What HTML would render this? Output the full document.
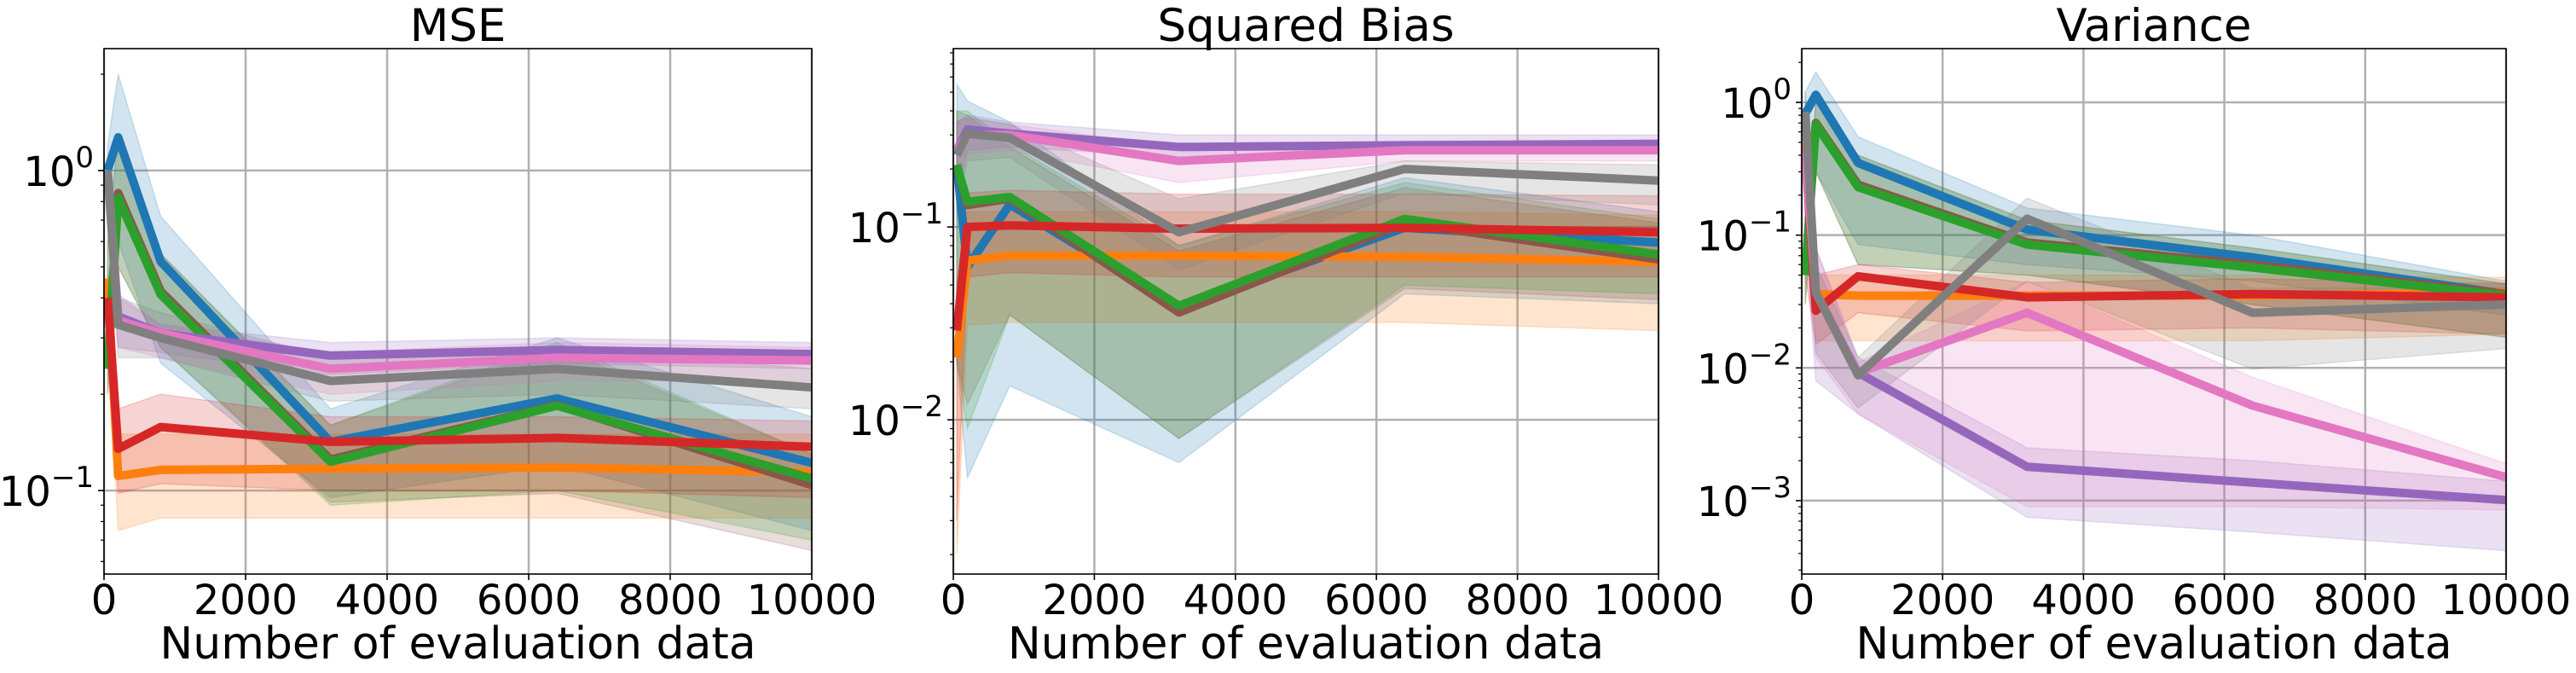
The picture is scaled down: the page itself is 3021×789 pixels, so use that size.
<!DOCTYPE html>
<html><head><meta charset="utf-8">
<style>
html,body{margin:0;padding:0;background:#fff;}
svg{display:block;}
text{font-family:"DejaVu Sans","Liberation Sans",sans-serif;fill:#000;}
</style></head>
<body>
<svg id="fig" width="3021" height="789" viewBox="0 0 3021 789" xmlns="http://www.w3.org/2000/svg"></svg>
<script>
// ---------- data ----------
const xs = [50, 200, 800, 3200, 6400, 10000];
const seriesNames = ['blue','orange','green','red','purple','brown','pink','gray'];
const colors = ['#1f77b4','#ff7f0e','#2ca02c','#d62728','#9467bd','#8c564b','#e377c2','#7f7f7f'];
const drawOrder = [0,1,5,2,3,4,6,7];
const xTicks = [0,2000,4000,6000,8000,10000];
const xTickLabels = ['0','2000','4000','6000','8000','10000'];
const titles = ['MSE','Squared Bias','Variance'];

// MSE
const mseMean = [
 [1.0,1.27,0.52,0.142,0.194,0.122],
 [0.46,0.111,0.116,0.117,0.118,0.114],
 [0.24,0.82,0.41,0.123,0.184,0.109],
 [0.40,0.135,0.158,0.142,0.146,0.137],
 [1.0,0.35,0.31,0.264,0.275,0.267],
 [0.24,0.85,0.42,0.125,0.185,0.104],
 [1.0,0.34,0.31,0.24,0.26,0.255],
 [1.0,0.33,0.30,0.22,0.24,0.21]];
const mseHi = [
 [1.2,2.0,0.72,0.18,0.30,0.17],
 [0.5,0.15,0.15,0.15,0.15,0.15],
 [0.6,1.3,0.55,0.16,0.29,0.13],
 [0.45,0.18,0.2,0.17,0.17,0.165],
 [1.1,0.41,0.33,0.29,0.30,0.29],
 [0.6,1.3,0.55,0.16,0.28,0.13],
 [1.1,0.40,0.33,0.27,0.29,0.28],
 [1.1,0.40,0.36,0.26,0.28,0.24]];
const mseLo = [
 [0.8,0.6,0.25,0.095,0.12,0.075],
 [0.3,0.075,0.082,0.082,0.082,0.082],
 [0.2,0.5,0.28,0.09,0.10,0.07],
 [0.3,0.098,0.105,0.10,0.10,0.095],
 [0.8,0.28,0.27,0.23,0.25,0.24],
 [0.2,0.5,0.28,0.092,0.098,0.065],
 [0.8,0.28,0.26,0.20,0.22,0.22],
 [0.8,0.26,0.26,0.19,0.20,0.18]];

// Squared bias
const biasMean = [
 [0.21,0.062,0.131,0.038,0.099,0.083],
 [0.021,0.067,0.071,0.071,0.070,0.066],
 [0.21,0.135,0.143,0.039,0.11,0.072],
 [0.029,0.1,0.102,0.098,0.099,0.094],
 [0.25,0.32,0.305,0.26,0.265,0.27],
 [0.21,0.13,0.14,0.036,0.105,0.068],
 [0.25,0.30,0.30,0.22,0.25,0.25],
 [0.236,0.305,0.29,0.094,0.20,0.174]];
const biasHi = [
 [0.55,0.45,0.35,0.08,0.18,0.12],
 [0.04,0.12,0.12,0.12,0.12,0.115],
 [0.4,0.40,0.27,0.08,0.17,0.11],
 [0.05,0.15,0.155,0.148,0.148,0.145],
 [0.35,0.38,0.35,0.30,0.30,0.30],
 [0.4,0.38,0.26,0.075,0.16,0.105],
 [0.35,0.37,0.34,0.26,0.28,0.28],
 [0.35,0.37,0.34,0.14,0.22,0.21]];
const biasLo = [
 [0.02,0.005,0.015,0.006,0.045,0.04],
 [0.002,0.031,0.032,0.032,0.032,0.029],
 [0.02,0.009,0.035,0.008,0.05,0.045],
 [0.003,0.055,0.058,0.055,0.055,0.055],
 [0.15,0.25,0.26,0.23,0.24,0.24],
 [0.02,0.012,0.035,0.008,0.048,0.042],
 [0.15,0.24,0.25,0.17,0.22,0.22],
 [0.12,0.22,0.23,0.06,0.15,0.13]];

// Variance
const varMean = [
 [0.82,1.14,0.35,0.11,0.068,0.036],
 [0.49,0.036,0.035,0.035,0.035,0.037],
 [0.05,0.68,0.23,0.085,0.057,0.035],
 [0.43,0.027,0.049,0.034,0.036,0.034],
 [0.43,0.037,0.0092,0.0018,0.00137,0.00101],
 [0.05,0.7,0.24,0.088,0.06,0.036],
 [0.43,0.037,0.0092,0.026,0.0052,0.0015],
 [0.85,0.037,0.0088,0.133,0.026,0.030]];
const varHi = [
 [1.2,1.7,0.55,0.16,0.10,0.045],
 [0.6,0.05,0.05,0.05,0.05,0.048],
 [0.1,1.0,0.4,0.13,0.08,0.043],
 [0.6,0.05,0.06,0.044,0.047,0.043],
 [0.5,0.08,0.012,0.0025,0.002,0.0014],
 [0.1,1.0,0.4,0.13,0.08,0.043],
 [0.5,0.08,0.011,0.045,0.0085,0.0019],
 [1.2,0.06,0.012,0.19,0.04,0.04]];
const varLo = [
 [0.5,0.3,0.085,0.06,0.045,0.025],
 [0.1,0.016,0.016,0.016,0.016,0.018],
 [0.03,0.3,0.06,0.05,0.03,0.017],
 [0.05,0.015,0.026,0.019,0.02,0.018],
 [0.1,0.008,0.0045,0.00075,0.00058,0.00042],
 [0.03,0.3,0.06,0.05,0.03,0.017],
 [0.1,0.012,0.0045,0.0009,0.0009,0.00085],
 [0.5,0.013,0.005,0.045,0.0098,0.014]];

const yDecades = [[0,-1],[-1,-2],[0,-1,-2,-3]];

// ---------- layout ----------
const panels = [
 {left:122,right:952,top:57,bottom:673,logMin:-1.261,logMax:0.381,mean:mseMean,hi:mseHi,lo:mseLo,key:'mse'},
 {left:1118,right:1945,top:57,bottom:673,logMin:-2.80,logMax:-0.075,mean:biasMean,hi:biasHi,lo:biasLo,key:'bias'},
 {left:2113,right:2939,top:57,bottom:673,logMin:-3.553,logMax:0.405,mean:varMean,hi:varHi,lo:varLo,key:'variance'}];

const NS='http://www.w3.org/2000/svg';
const svg=document.getElementById('fig');
function mk(tag,attrs,parent){const e=document.createElementNS(NS,tag);for(const k in attrs)e.setAttribute(k,attrs[k]);(parent||svg).appendChild(e);return e;}

panels.forEach((p,pi)=>{
  const g=mk('g',{});
  
  
  const xS=v=>p.left+(v-0)/10000*(p.right-p.left);
  const yS=v=>p.bottom-(Math.log10(v)-p.logMin)/(p.logMax-p.logMin)*(p.bottom-p.top);
  const clipId='clip'+pi;
  const cp=mk('clipPath',{id:clipId},g);
  mk('rect',{x:p.left,y:p.top,width:p.right-p.left,height:p.bottom-p.top},cp);

  xTicks.forEach(t=>{
    const l=mk('line',{x1:xS(t),x2:xS(t),y1:p.top,y2:p.bottom,stroke:'#b0b0b0','stroke-width':2.5},g);
    
    
  });
  yDecades[pi].forEach(d=>{
    const y=yS(Math.pow(10,d));
    const l=mk('line',{x1:p.left,x2:p.right,y1:y,y2:y,stroke:'#b0b0b0','stroke-width':2.5},g);
    
    
  });

  const plot=mk('g',{'clip-path':'url(#'+clipId+')'},g);
  drawOrder.forEach(si=>{
    let d='';
    xs.forEach((x,i)=>{d+=(i?'L':'M')+xS(x).toFixed(1)+','+yS(p.hi[si][i]).toFixed(1);});
    for(let i=xs.length-1;i>=0;i--)d+='L'+xS(xs[i]).toFixed(1)+','+yS(p.lo[si][i]).toFixed(1);
    const b=mk('path',{d:d+'Z',fill:colors[si],'fill-opacity':0.2,stroke:colors[si],'stroke-opacity':0.2,'stroke-width':1.5},plot);
    
    
  });
  drawOrder.forEach(si=>{
    const pts=xs.map((x,i)=>xS(x).toFixed(1)+','+yS(p.mean[si][i]).toFixed(1)).join(' ');
    const l=mk('polyline',{points:pts,fill:'none',stroke:colors[si],'stroke-width':10,'stroke-linejoin':'round'},plot);
    
    
  });

  const fr=mk('rect',{x:p.left,y:p.top,width:p.right-p.left,height:p.bottom-p.top,fill:'none',stroke:'#000','stroke-width':1.6},g);
  
  

  xTicks.forEach((t,i)=>{
    mk('line',{x1:xS(t),x2:xS(t),y1:p.bottom,y2:p.bottom+7,stroke:'#000','stroke-width':1.6},g);
    const tx=mk('text',{x:xS(t),y:720,'font-size':48,'text-anchor':'middle'},g);
    tx.textContent=xTickLabels[i];
    
    
  });
  for(let d=Math.floor(p.logMin);d<=Math.ceil(p.logMax);d++){
    for(let m=1;m<10;m++){
      const v=m*Math.pow(10,d);const lv=Math.log10(v);
      if(lv<p.logMin||lv>p.logMax)continue;
      const y=yS(v);
      mk('line',{x1:p.left,x2:p.left-(m===1?7:4),y1:y,y2:y,stroke:'#000','stroke-width':m===1?1.6:1.2},g);
    }
  }
  yDecades[pi].forEach(d=>{
    const y=yS(Math.pow(10,d));
    const tx=mk('text',{x:p.left-12,y:y+18,'font-size':48,'text-anchor':'end'},g);
    const a=mk('tspan',{},tx);a.textContent='10';
    const b=mk('tspan',{dy:-22,'font-size':34},tx);b.textContent=d===0?'0':'−'+(-d);
    
    
  });

  const ti=mk('text',{x:(p.left+p.right)/2,y:48,'font-size':53,'text-anchor':'middle'},g);
  ti.textContent=titles[pi];
  
  
  const xl=mk('text',{x:(p.left+p.right)/2,y:772,'font-size':52,'text-anchor':'middle'},g);
  xl.textContent='Number of evaluation data';
  
  
});
</script>
</body></html>
